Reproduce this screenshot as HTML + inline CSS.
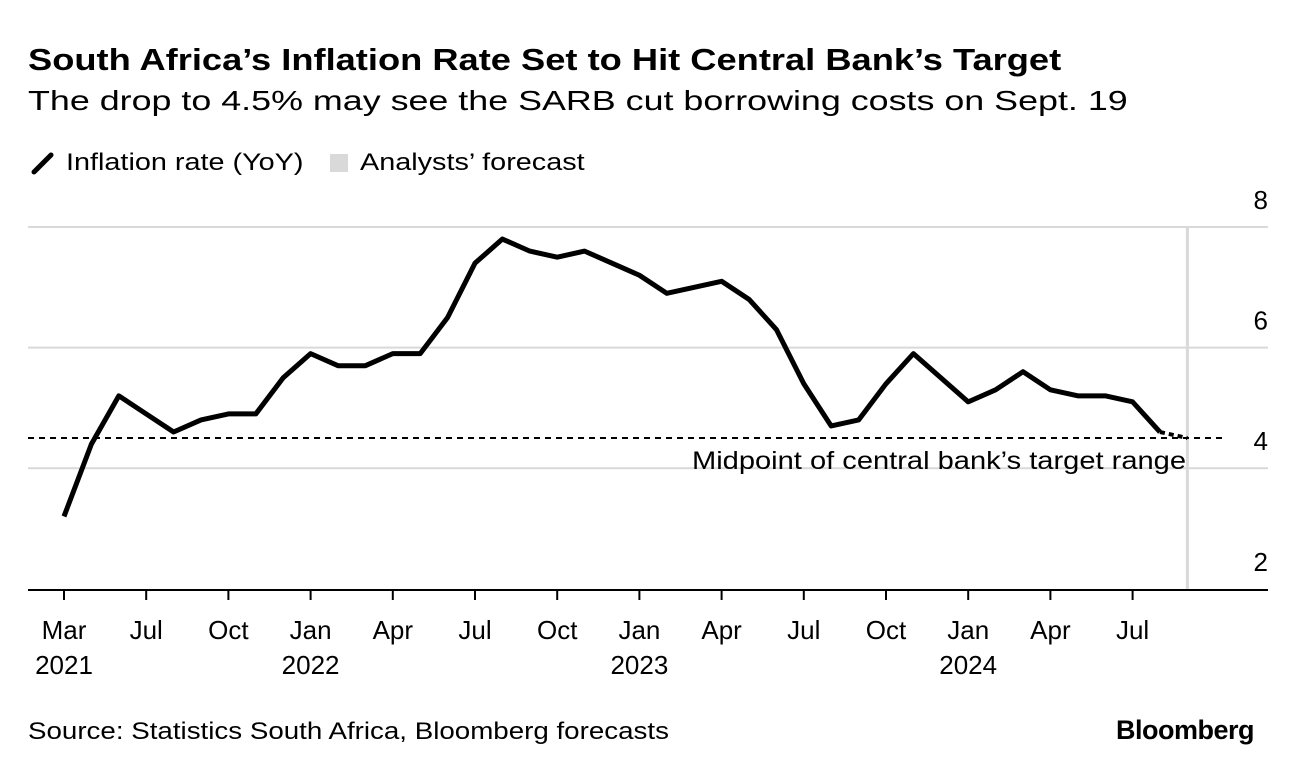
<!DOCTYPE html>
<html><head><meta charset="utf-8"><style>
body{margin:0;background:#fff;font-family:"Liberation Sans",sans-serif;color:#000;}
#wrap{position:relative;width:1296px;height:774px;overflow:hidden;}
.t{position:absolute;white-space:nowrap;transform-origin:0 0;}
</style></head><body>
<div id="wrap">
<div class="t" style="left:28px;top:42px;font-size:31px;font-weight:bold;transform:scaleX(1.17);">South Africa’s Inflation Rate Set to Hit Central Bank’s Target</div>
<div class="t" style="left:28px;top:85px;font-size:28px;transform:scaleX(1.28);">The drop to 4.5% may see the SARB cut borrowing costs on Sept. 19</div>
<svg width="26" height="24" style="position:absolute;left:30px;top:151px"><line x1="4" y1="21" x2="21" y2="4" stroke="#000" stroke-width="5" stroke-linecap="round"/></svg>
<div class="t" style="left:66px;top:149px;font-size:24px;transform:scaleX(1.2);">Inflation rate (YoY)</div>
<span style="position:absolute;left:330px;top:154px;width:18px;height:18px;background:#d9d9d9"></span>
<div class="t" style="left:360px;top:149px;font-size:24px;transform:scaleX(1.2);">Analysts’ forecast</div>
<svg id="chart" width="1296" height="774" style="position:absolute;left:0;top:0"></svg>
<div class="t" style="left:28px;top:718px;font-size:24px;transform:scaleX(1.155);">Source: Statistics South Africa, Bloomberg forecasts</div>
<div class="t" style="left:1116px;top:715px;font-size:27px;font-weight:bold;letter-spacing:-0.5px;">Bloomberg</div>
</div>
<script>
const values=[3.2,4.4,5.2,4.9,4.6,4.8,4.9,4.9,5.5,5.9,5.7,5.7,5.9,5.9,6.5,7.4,7.8,7.6,7.5,7.6,7.4,7.2,6.9,7.0,7.1,6.8,6.3,5.4,4.7,4.8,5.4,5.9,5.5,5.1,5.3,5.6,5.3,5.2,5.2,5.1,4.6];
const forecast=[4.6,4.5];
const yTicks=[2,4,6,8];
const tickIdx=[0,3,6,9,12,15,18,21,24,27,30,33,36,39];
const tickMonth=["Mar","Jul","Oct","Jan","Apr","Jul","Oct","Jan","Apr","Jul","Oct","Jan","Apr","Jul"];
const tickYear=["2021","","","2022","","","","2023","","","","2024","",""];
const target=4.5;
const NS="http://www.w3.org/2000/svg";
const svg=document.getElementById('chart');
const x=i=>64+i*27.4;
const y=v=>227+(8-v)*60.3;
const F='Liberation Sans, sans-serif';
function mk(t,a){const e=document.createElementNS(NS,t);for(const k in a)e.setAttribute(k,a[k]);svg.appendChild(e);return e;}
yTicks.forEach(v=>{
 if(v>2){const g=mk('line',{x1:28,x2:1268,y1:y(v),y2:y(v),stroke:'#d9d9d9','stroke-width':2});
 
 }
 const t=mk('text',{x:1268,y:y(v)-18,'text-anchor':'end','font-size':26,'font-family':F});
 t.textContent=v;
 
 
});
const fl=mk('line',{x1:x(41),x2:x(41),y1:227,y2:590,stroke:'#d9d9d9','stroke-width':3});


const base=mk('line',{x1:28,x2:1268,y1:590,y2:590,stroke:'#000','stroke-width':2});


tickIdx.forEach((ii,k)=>{
 const tk=mk('line',{x1:x(ii),x2:x(ii),y1:590,y2:600,stroke:'#000','stroke-width':2});
 
 
 const t=mk('text',{x:x(ii),y:639,'text-anchor':'middle','font-size':26,'font-family':F});
 t.textContent=tickMonth[k];
 
 
 if(tickYear[k]){const t2=mk('text',{x:x(ii),y:674,'text-anchor':'middle','font-size':26,'font-family':F});
 t2.textContent=tickYear[k];
 
 }
});
const tl=mk('line',{x1:28,x2:1225,y1:y(target),y2:y(target),stroke:'#000','stroke-width':2,'stroke-dasharray':'6,5'});


const tlab=mk('text',{x:692,y:y(target)+31,'font-size':25,'font-family':F,textLength:494,lengthAdjust:'spacingAndGlyphs'});
tlab.textContent='Midpoint of central bank’s target range';


const p=mk('polyline',{points:values.map((v,i)=>x(i)+','+y(v)).join(' '),fill:'none',stroke:'#000','stroke-width':5,'stroke-linejoin':'round'});


const f=mk('polyline',{points:forecast.map((v,i)=>x(40+i)+','+y(v)).join(' '),fill:'none',stroke:'#000','stroke-width':4,'stroke-dasharray':'5,4'});


</script>
</body></html>
